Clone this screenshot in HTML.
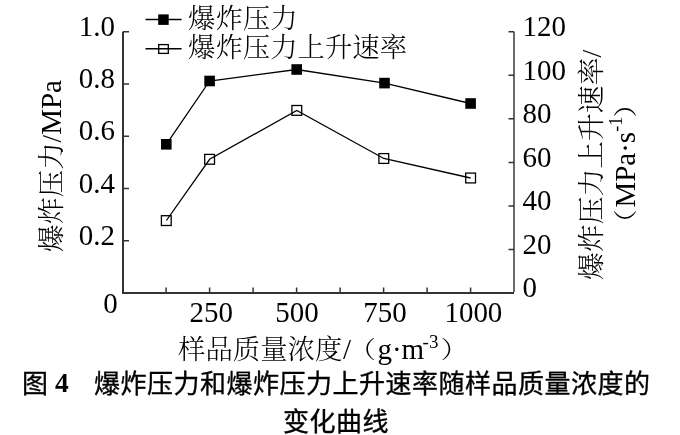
<!DOCTYPE html>
<html><head><meta charset="utf-8">
<style>
html,body{margin:0;padding:0;background:#fff;}
body{width:680px;height:435px;overflow:hidden;position:relative;}
svg{position:absolute;left:0;top:0;will-change:transform;}
.n{font-family:"Liberation Serif","Noto Serif CJK SC",serif;font-size:30px;fill:#000;}
.c{font-family:"Liberation Serif","Noto Serif CJK SC",serif;font-size:27.4px;fill:#000;font-weight:300;}
.l{font-family:"Liberation Serif",serif;font-size:29px;}
.cap{font-family:"Liberation Sans","Noto Sans CJK SC",sans-serif;font-size:26px;fill:#000;letter-spacing:0.5px;font-weight:400;stroke:#000;stroke-width:0.35px;}
</style></head><body>
<svg width="680" height="435" viewBox="0 0 680 435">
<!-- axes -->
<path d="M123 31.7V293H514" fill="none" stroke="#333" stroke-width="2"/>
<path d="M514 31.7V292" stroke="#6a6a6a" stroke-width="2" fill="none"/>
<!-- left ticks -->
<path stroke="#333" stroke-width="1.5" d="M123 31.7H129M123 84H129M123 136.2H129M123 188.5H129M123 240.7H129"/>
<!-- right ticks -->
<path stroke="#333" stroke-width="1.5" d="M514 31.7H508.5M514 75.3H508.5M514 118.8H508.5M514 162.4H508.5M514 205.9H508.5M514 249.5H508.5"/>
<!-- x ticks -->
<path stroke="#333" stroke-width="1.5" d="M166.1 293V287.5M209.6 293V287.5M253.1 293V287.5M296.6 293V287.5M340.1 293V287.5M383.6 293V287.5M427.1 293V287.5M470.6 293V287.5"/>
<!-- left labels -->
<g class="n">
<text transform="translate(115,35.8) scale(0.965,1)" text-anchor="end">1.0</text>
<text transform="translate(115,88.1) scale(0.965,1)" text-anchor="end">0.8</text>
<text transform="translate(115,140.3) scale(0.965,1)" text-anchor="end">0.6</text>
<text transform="translate(115,192.6) scale(0.965,1)" text-anchor="end">0.4</text>
<text transform="translate(115,244.8) scale(0.965,1)" text-anchor="end">0.2</text>
<text transform="translate(117.8,313.3) scale(0.965,1)" text-anchor="end">0</text>
</g>
<!-- right labels -->
<g class="n">
<text transform="translate(522.5,36.1) scale(0.965,1)" text-anchor="start">120</text>
<text transform="translate(522.5,79.7) scale(0.965,1)" text-anchor="start">100</text>
<text transform="translate(522.5,123.2) scale(0.965,1)" text-anchor="start">80</text>
<text transform="translate(522.5,166.7) scale(0.965,1)" text-anchor="start">60</text>
<text transform="translate(522.5,210.3) scale(0.965,1)" text-anchor="start">40</text>
<text transform="translate(522.5,253.8) scale(0.965,1)" text-anchor="start">20</text>
<text transform="translate(522.5,297.4) scale(0.965,1)" text-anchor="start">0</text>
</g>
<!-- x labels -->
<g class="n">
<text transform="translate(211.3,322.0) scale(0.965,1)" text-anchor="middle">250</text>
<text transform="translate(297,322.0) scale(0.965,1)" text-anchor="middle">500</text>
<text transform="translate(385,322.0) scale(0.965,1)" text-anchor="middle">750</text>
<text transform="translate(473.4,322.0) scale(0.965,1)" text-anchor="middle">1000</text>
</g>
<!-- series 1 -->
<polyline points="166.3,144.3 209.6,81 296.7,69.5 384.5,83.1 470.6,103.5" fill="none" stroke="#000" stroke-width="1.3"/>
<g fill="#000">
<rect x="161" y="139" width="10.6" height="10.6"/>
<rect x="204.3" y="75.7" width="10.6" height="10.6"/>
<rect x="291.4" y="64.2" width="10.6" height="10.6"/>
<rect x="379.2" y="77.8" width="10.6" height="10.6"/>
<rect x="465.3" y="98.2" width="10.6" height="10.6"/>
</g>
<!-- series 2 -->
<polyline points="166.4,220.5 209.6,159.3 296.8,110.4 383.8,158.5 470.6,178" fill="none" stroke="#000" stroke-width="1.3"/>
<g fill="none" stroke="#000" stroke-width="1.3">
<rect x="161.4" y="215.7" width="9.8" height="9.8"/>
<rect x="204.7" y="154.4" width="9.8" height="9.8"/>
<rect x="291.9" y="105.5" width="9.8" height="9.8"/>
<rect x="378.9" y="153.6" width="9.8" height="9.8"/>
<rect x="465.7" y="173.1" width="9.8" height="9.8"/>
</g>
<!-- legend -->
<path d="M145.5 19.5H181.6M145.5 48.8H181.6" stroke="#000" stroke-width="1.6"/>
<rect x="158.2" y="14.4" width="10.5" height="10.5" fill="#000"/>
<rect x="158.7" y="44.6" width="9.6" height="8.8" fill="none" stroke="#000" stroke-width="1.3"/>
<text class="c" x="188" y="28">爆炸压力</text>
<text class="c" x="188" y="57">爆炸压力上升速率</text>
<!-- axis titles -->
<text class="c" transform="translate(61,166) rotate(-90)" text-anchor="middle">爆炸压力/<tspan class="l">MPa</tspan></text>
<text class="c" transform="translate(601,164.9) rotate(-90)" text-anchor="middle" style="font-size:27.8px">爆炸压力上升速率/</text>
<text class="c" transform="translate(634.1,236.8) rotate(-90) scale(1,0.86)">（</text>
<text class="l" transform="translate(634.7,207.6) rotate(-90)">MPa·s<tspan dy="-12.7" style="font-size:18px">-1</tspan></text>
<text class="c" transform="translate(634.1,117.5) rotate(-90) scale(1,0.86)">）</text>
<text class="c" x="178" y="359.2">样品质量浓度<tspan class="l" x="343" y="359.2">/</tspan><tspan class="l" x="377.4" y="359.2">g·m</tspan><tspan class="l" dx="-1.5" dy="-11.5" style="font-size:19px">-3</tspan></text>
<text class="c" transform="translate(348.5,358.2) scale(1,0.86)">（</text>
<text class="c" transform="translate(440.7,358.2) scale(1,0.86)">）</text>
<!-- caption -->
<text class="cap" x="22" y="393">图 <tspan dx="-1.2" dy="-0.6" font-family="Liberation Serif" font-weight="bold" style="font-size:27.5px;stroke:none">4</tspan></text>
<text class="cap" x="94" y="393">爆炸压力和爆炸压力上升速率随样品质量浓度的</text>
<text class="cap" x="283" y="431">变化曲线</text>
</svg>
</body></html>
